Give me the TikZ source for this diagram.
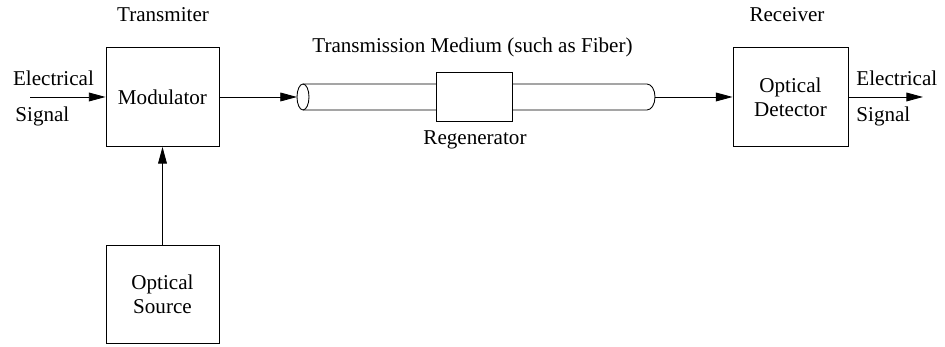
\documentclass[tikz,border=0pt]{standalone}
\usepackage{fontspec}
\setmainfont{Liberation Serif}
\usetikzlibrary{arrows.meta}

\begin{document}
\begin{tikzpicture}[font=\fontsize{12}{13.5}\selectfont,
    line width=0.5pt,
    block/.style={draw, minimum width=2.26cm, minimum height=1.98cm, align=center},
    sig/.style={-{Triangle[length=9.5pt,width=5pt]}}]
      \useasboundingbox (0,0) rectangle (18.9,6.94);
      \def\fy{5.0}
      \def\fr{0.26}
      % transmitter side
      \node[block] (mod) at (3.25,\fy) {Modulator};
      \node[block, minimum height=1.96cm] (src) at (3.25,1.06) {Optical\\Source};
      \node (tx) at (3.26,6.64) {Transmiter};
      \coordinate (ein) at (0.6,\fy);
      \node (ein1) at (1.07,5.38) {Electrical};
      \node[anchor=west, inner sep=0pt] (ein2) at (0.3,4.62) {Signal};
      \draw[sig] (ein) -- (mod.west);
      \draw[sig] (src.north) -- (mod.south);
      % fiber with regenerator
      \coordinate (fibL) at (6.06,\fy);
      \coordinate (fibR) at (12.94,\fy);
      \coordinate (fibin) at (5.94,\fy);
      \coordinate (fibout) at (13.1,\fy);
      \draw (fibL) ellipse [x radius=0.12, y radius=\fr];
      \draw (6.06,\fy+\fr) -- (12.94,\fy+\fr)
            arc[start angle=90, end angle=-90, x radius=0.16, y radius=\fr]
            -- (6.06,\fy-\fr);
      \node[draw, fill=white, minimum width=1.52cm, minimum height=0.98cm] (reg) at (9.48,\fy) {};
      \node (regl) at (9.5,4.14) {Regenerator};
      \node (med) at (9.45,6.0) {Transmission Medium (such as Fiber)};
      \draw[sig] (mod.east) -- (fibin);
      % receiver side
      \node[block, minimum width=2.3cm] (det) at (15.81,\fy) {Optical\\Detector};
      \node (rx) at (15.74,6.64) {Receiver};
      \coordinate (eout) at (18.46,\fy);
      \node[anchor=west, inner sep=0pt] (eout1) at (17.12,5.38) {Electrical};
      \node[anchor=west, inner sep=0pt] (eout2) at (17.12,4.62) {Signal};
      \draw[sig] (fibout) -- (det.west);
      \draw[sig] (det.east) -- (eout);
\end{tikzpicture}
\end{document}
